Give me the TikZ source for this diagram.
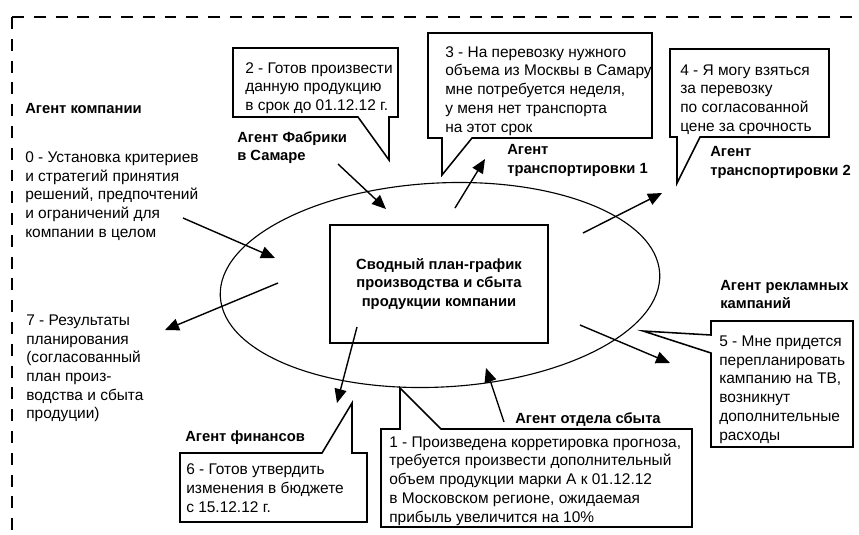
\documentclass[tikz,border=0pt]{standalone}
\usepackage{fontspec}
\setmainfont{Liberation Sans}
\usetikzlibrary{arrows.meta,positioning}

\begin{document}
\begin{tikzpicture}[
    agent/.style={font=\fontsize{10.5}{13.3}\selectfont\bfseries, align=left, anchor=base west, inner sep=0pt},
    msg/.style={font=\fontsize{11}{13.3}\selectfont, align=left, anchor=base west, inner sep=0pt},
    callout/.style={draw, line width=1.1pt, fill=white, line join=miter},
    arrow/.style={-{Triangle[length=0.35cm,width=0.3cm]}, line width=1pt},
    plan/.style={rectangle, draw, line width=1.1pt, fill=white, minimum width=5.45cm, minimum height=2.95cm, align=center, font=\fontsize{10.5}{13.3}\selectfont\bfseries},
    frame/.style={dash pattern=on 8.5pt off 7pt, line width=1.4pt}
]
\useasboundingbox (0,0) rectangle (21.475,-13.35);

% Frame
\coordinate (corner) at (0.3,-0.425);
\coordinate (frame_r) at (21.8,-0.425);
\coordinate (frame_b) at (0.3,-13.6);
\draw[frame] (corner) -- (frame_r);
\draw[frame] (corner) -- (frame_b);

% Plan
\draw[line width=0.8pt, rotate around={3:(11,-7.125)}] (11,-7.125) ellipse (5.5cm and 2.55cm);
\node[plan] (plan) at (10.975,-7.1) {Сводный план-график\\производства и сбыта\\продукции компании};

% Callouts
\draw[callout] (5.825,-1.2) -- (9.95,-1.2) -- (9.95,-2.925) -- (9.725,-2.925) -- (9.725,-4.0) -- (8.95,-2.925) -- (5.825,-2.925) -- cycle;
\draw[callout] (10.7,-0.825) -- (16.3,-0.825) -- (16.3,-3.45) -- (11.8,-3.45) -- (11.05,-4.375) -- (11.05,-3.45) -- (10.7,-3.45) -- cycle;
\draw[callout] (16.75,-1.225) -- (20.725,-1.225) -- (20.725,-3.425) -- (17.5,-3.425) -- (16.925,-4.575) -- (16.925,-3.425) -- (16.75,-3.425) -- cycle;
\draw[callout] (17.775,-8.025) -- (21.325,-8.025) -- (21.325,-11.175) -- (17.775,-11.175) -- (17.775,-8.825) -- (16.075,-8.275) -- (17.775,-8.375) -- cycle;
\draw[callout] (9.525,-10.725) -- (10.0,-10.725) -- (10.0,-9.7) -- (11.025,-10.725) -- (17.3,-10.725) -- (17.3,-13.175) -- (9.525,-13.175) -- cycle;
\draw[callout] (4.5,-11.325) -- (8.05,-11.325) -- (8.8,-10.075) -- (8.8,-11.325) -- (9.175,-11.325) -- (9.175,-13.05) -- (4.5,-13.05) -- cycle;

% Messages (placed at the baseline of the last line)
\node[msg] (msg2) at (6.125,-2.76) {2 - Готов произвести\\данную продукцию\\в срок до 01.12.12 г.};
\node[msg] (msg0) at (0.625,-5.93) {0 - Установка критериев\\и стратегий принятия\\решений, предпочтений\\и ограничений для\\компании в целом};
\node[msg] (msg3) at (11.125,-3.3) {3 - На перевозку нужного\\объема из Москвы в Самару\\мне потребуется неделя,\\у меня нет транспорта\\на этот срок};
\node[msg] (msg4) at (17.0,-3.28) {4 - Я могу взяться\\за перевозку\\по согласованной\\цене за срочность};
\node[msg] (msg5) at (17.975,-11.0) {5 - Мне придется\\перепланировать\\кампанию на ТВ,\\возникнут\\дополнительные\\расходы};
\node[msg] (msg1) at (9.725,-13.05) {1 - Произведена корретировка прогноза,\\требуется произвести дополнительный\\объем продукции марки А к 01.12.12\\в Московском регионе, ожидаемая\\прибыль увеличится на 10\%};
\node[msg] (msg6) at (4.65,-12.8) {6 - Готов утвердить\\изменения в бюджете\\с 15.12.12 г.};
\node[msg] (msg7) at (0.65,-10.47) {7 - Результаты\\планирования\\(согласованный\\план произ-\\водства и сбыта\\продуции)};

% Agents
\node[agent] (company) at (0.625,-2.825) {Агент компании};
\node[agent] (factory) at (5.925,-4.02) {Агент Фабрики\\в Самаре};
\node[agent] (trans1) at (12.675,-4.34) {Агент\\транспортировки 1};
\node[agent] (trans2) at (17.75,-4.39) {Агент\\транспортировки 2};
\node[agent] (ads) at (18.0,-7.72) {Агент рекламных\\кампаний};
\node[agent] (sales) at (12.875,-10.575) {Агент отдела сбыта};
\node[agent] (finance) at (4.625,-11.025) {Агент финансов};

% Arrows
\coordinate (company_from) at (4.575,-5.45);
\coordinate (company_to) at (6.875,-6.45);
\coordinate (factory_from) at (8.45,-4.1);
\coordinate (factory_to) at (9.65,-5.225);
\coordinate (trans1_from) at (11.375,-5.2);
\coordinate (trans1_to) at (12.125,-3.975);
\coordinate (trans2_from) at (14.575,-5.825);
\coordinate (trans2_to) at (16.55,-4.825);
\coordinate (ads_from) at (14.5,-8.125);
\coordinate (ads_to) at (16.75,-9.075);
\coordinate (sales_from) at (12.6,-10.55);
\coordinate (sales_to) at (12.15,-9.2);
\coordinate (finance_from) at (8.925,-8.175);
\coordinate (finance_to) at (8.425,-10.075);
\coordinate (result_from) at (6.95,-7.075);
\coordinate (result_to) at (4.125,-8.25);

\draw[arrow] (company_from) -- (company_to);
\draw[arrow] (factory_from) -- (factory_to);
\draw[arrow] (trans1_from) -- (trans1_to);
\draw[arrow] (trans2_from) -- (trans2_to);
\draw[arrow] (ads_from) -- (ads_to);
\draw[arrow] (sales_from) -- (sales_to);
\draw[arrow] (finance_from) -- (finance_to);
\draw[arrow] (result_from) -- (result_to);

\end{tikzpicture}
\end{document}
